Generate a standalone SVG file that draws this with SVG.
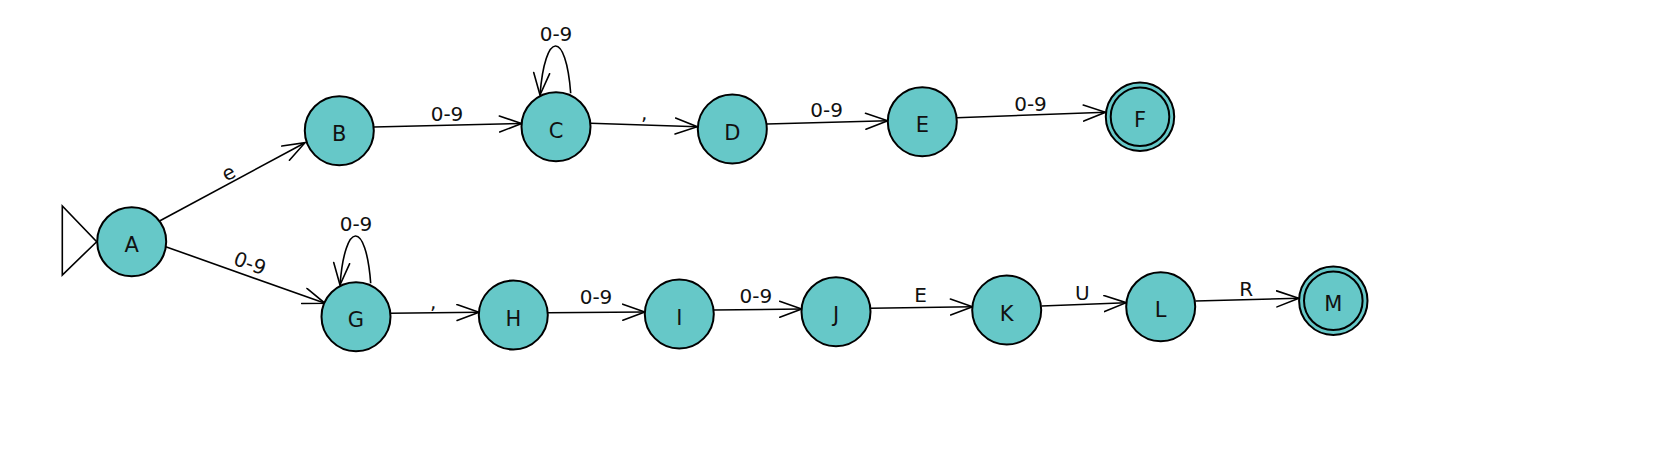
<svg xmlns="http://www.w3.org/2000/svg" width="1669" height="455" viewBox="0 0 1669 455">
<style>
.n{fill:#66C8C8;stroke:#000;stroke-width:2}
.t{font-family:"DejaVu Sans",sans-serif;font-size:21px;fill:#111;text-anchor:middle}
.l{font-family:"DejaVu Sans",sans-serif;font-size:20px;fill:#111;text-anchor:middle}
.e{fill:none;stroke:#000;stroke-width:1.6}
</style>
<defs>
<marker id="arr" markerUnits="userSpaceOnUse" markerWidth="30" markerHeight="20" refX="23" refY="9" orient="auto">
<path d="M1,1 L23,9 L1,17" fill="none" stroke="#000" stroke-width="1.6" stroke-linecap="round"/>
</marker>
</defs>
<rect width="1669" height="455" fill="#fff"/>
<g id="edges">
<polygon points="62.3,206 62.3,275 96.7,241.7" fill="#fff" stroke="#000" stroke-width="1.6"/>
<line class="e" x1="160" y1="220.7" x2="305" y2="142.7" marker-end="url(#arr)"/>
<line class="e" x1="165.7" y1="246.7" x2="325" y2="303.3" marker-end="url(#arr)"/>
<line class="e" x1="373.8" y1="127" x2="521.5" y2="123.5" marker-end="url(#arr)"/>
<path class="e" d="M570.7,93.3 C566,30 545,30 540,95" marker-end="url(#arr)"/>
<line class="e" x1="590.5" y1="123.3" x2="697.3" y2="126.7" marker-end="url(#arr)"/>
<line class="e" x1="766.7" y1="124" x2="887.7" y2="120.7" marker-end="url(#arr)"/>
<line class="e" x1="956.7" y1="117.7" x2="1105.5" y2="112.3" marker-end="url(#arr)"/>
<path class="e" d="M370.7,283.3 C366,220 345,220 340,285" marker-end="url(#arr)"/>
<line class="e" x1="390" y1="313.3" x2="479" y2="312.3" marker-end="url(#arr)"/>
<line class="e" x1="547.8" y1="312.8" x2="644.8" y2="312" marker-end="url(#arr)"/>
<line class="e" x1="713.3" y1="310" x2="801.7" y2="309" marker-end="url(#arr)"/>
<line class="e" x1="870.7" y1="308.3" x2="972.5" y2="306.7" marker-end="url(#arr)"/>
<line class="e" x1="1041.5" y1="306" x2="1126.2" y2="302.7" marker-end="url(#arr)"/>
<line class="e" x1="1195.5" y1="301" x2="1298.8" y2="298.3" marker-end="url(#arr)"/>
<text class="l" transform="translate(228.3,172.7) rotate(-28)" dominant-baseline="central">e</text>
<text class="l" transform="translate(250,263.3) rotate(20)" dominant-baseline="central">0-9</text>
<text class="l" x="447" y="120.5">0-9</text>
<text class="l" x="556" y="40.5">0-9</text>
<text class="l" x="644.3" y="120">,</text>
<text class="l" x="826.7" y="116.7">0-9</text>
<text class="l" x="1030.5" y="110.7">0-9</text>
<text class="l" x="356" y="230.5">0-9</text>
<text class="l" x="433.3" y="309">,</text>
<text class="l" x="596" y="304">0-9</text>
<text class="l" x="755.8" y="303.3">0-9</text>
<text class="l" x="920.5" y="302.3">E</text>
<text class="l" x="1082.3" y="300">U</text>
<text class="l" x="1246.3" y="295.7">R</text>
</g>
<g id="A"><circle class="n" cx="131.7" cy="241.7" r="34.5"/><text class="t" x="131.7" y="252">A</text></g>
<g id="B"><circle class="n" cx="339.3" cy="130.7" r="34.5"/><text class="t" x="339.3" y="141">B</text></g>
<g id="C"><circle class="n" cx="556" cy="126.7" r="34.5"/><text class="t" x="556" y="137.5">C</text></g>
<g id="D"><circle class="n" cx="732.3" cy="129" r="34.5"/><text class="t" x="732.3" y="139.5">D</text></g>
<g id="E"><circle class="n" cx="922.3" cy="121.7" r="34.5"/><text class="t" x="922.3" y="131.5">E</text></g>
<g id="F"><circle class="n" cx="1140" cy="116.7" r="34.2"/><circle class="n" cx="1140" cy="116.7" r="29.3"/><text class="t" x="1140" y="127">F</text></g>
<g id="G"><circle class="n" cx="356" cy="316.7" r="34.5"/><text class="t" x="356" y="327">G</text></g>
<g id="H"><circle class="n" cx="513.3" cy="315" r="34.5"/><text class="t" x="513.3" y="325.5">H</text></g>
<g id="I"><circle class="n" cx="679.3" cy="314" r="34.5"/><text class="t" x="679.3" y="324.5">I</text></g>
<g id="J"><circle class="n" cx="836" cy="311.7" r="34.5"/><text class="t" x="836" y="322">J</text></g>
<g id="K"><circle class="n" cx="1006.7" cy="310" r="34.5"/><text class="t" x="1006.7" y="321">K</text></g>
<g id="L"><circle class="n" cx="1160.7" cy="306.7" r="34.5"/><text class="t" x="1160.7" y="317">L</text></g>
<g id="M"><circle class="n" cx="1333.3" cy="300.7" r="34.2"/><circle class="n" cx="1333.3" cy="300.7" r="29.3"/><text class="t" x="1333.3" y="311">M</text></g>
</svg>
